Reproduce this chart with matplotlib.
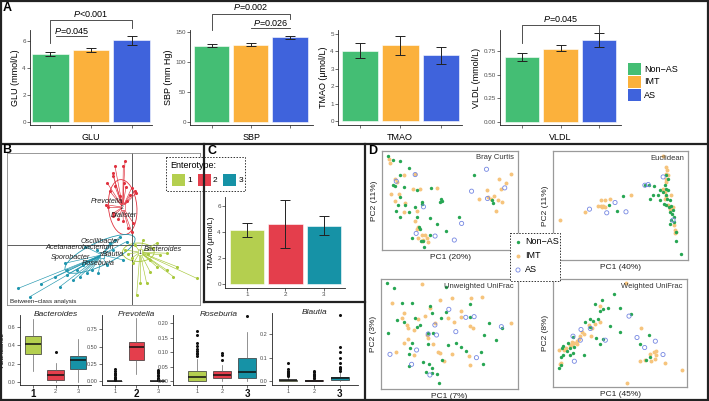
import matplotlib
matplotlib.use('Agg')
import matplotlib.pyplot as plt
from matplotlib.patches import Rectangle, Ellipse
import numpy as np

plt.rcParams['font.family'] = ['Liberation Sans', 'DejaVu Sans']
plt.rcParams['mathtext.fontset'] = 'custom'
plt.rcParams['mathtext.rm'] = 'Liberation Sans'
plt.rcParams['mathtext.it'] = 'Liberation Sans:italic'

# ---------------- data ----------------
groups = ['Non\u2212AS', 'IMT', 'AS']
group_colors = ['#44BE74', '#FBB13C', '#3F63DC']

glu_mean = [5.0, 5.3, 6.05]
glu_lo = [4.85, 5.2, 5.72]
glu_hi = [5.2, 5.48, 6.40]
sbp_mean = [127, 129, 141]
sbp_lo = [124.5, 127, 138]
sbp_hi = [129.5, 131, 144]
tmao_mean = [4.05, 4.34, 3.77]
tmao_lo = [3.60, 3.77, 3.26]
tmao_hi = [4.50, 4.90, 4.23]
vldl_mean = [0.69, 0.78, 0.87]
vldl_lo = [0.65, 0.75, 0.80]
vldl_hi = [0.73, 0.815, 0.945]

enterotypes = ['1', '2', '3']
ent_colors = ['#B4CF4F', '#E43E4C', '#1692A6']
tmao_ent_mean = [4.15, 4.6, 4.5]
tmao_ent_lo = [3.6, 2.75, 3.8]
tmao_ent_hi = [4.7, 6.5, 5.25]

# boxplot summaries (q1, median, q3, whisker low, whisker high, outliers)
bact_q1 = [0.30, 0.02, 0.145]
bact_med = [0.41, 0.073, 0.24]
bact_q3 = [0.50, 0.135, 0.28]
bact_wlo = [0.12, 0.0, 0.0]
bact_whi = [0.69, 0.21, 0.47]
bact_out = [[], [0.33], []]

prev_q1 = [0.0, 0.31, 0.0]
prev_med = [0.0, 0.49, 0.002]
prev_q3 = [0.005, 0.57, 0.007]
prev_wlo = [0.0, 0.10, 0.0]
prev_whi = [0.012, 0.91, 0.016]
prev_out = [[0.02, 0.03, 0.04, 0.05, 0.06, 0.08, 0.10, 0.12, 0.15, 0.175],
            [],
            [0.02, 0.03, 0.05, 0.07, 0.09, 0.11, 0.13, 0.145, 0.16]]

rose_q1 = [0.0, 0.009, 0.012]
rose_med = [0.013, 0.02, 0.031]
rose_q3 = [0.035, 0.035, 0.078]
rose_wlo = [0.0, 0.0, 0.0]
rose_whi = [0.075, 0.054, 0.171]
rose_out = [[0.087, 0.093, 0.098, 0.104, 0.11, 0.122, 0.133, 0.16, 0.173],
            [0.073, 0.09, 0.096],
            [0.225]]

blau_q1 = [0.0, 0.0, 0.004]
blau_med = [0.003, 0.002, 0.011]
blau_q3 = [0.006, 0.004, 0.019]
blau_wlo = [0.0, 0.0, 0.0]
blau_whi = [0.019, 0.009, 0.04]
blau_out = [[0.022, 0.025, 0.028, 0.03, 0.033, 0.036, 0.04, 0.045, 0.05, 0.076],
            [0.012, 0.015, 0.02, 0.025, 0.03, 0.04, 0.043],
            [0.045, 0.05, 0.055, 0.061, 0.076, 0.097, 0.126, 0.144, 0.283]]

# between-class analysis scores (arbitrary units, axis 2 sign flipped)
bca_origin = (395, 345)
bca_centroids = [(420, 367), (368, 232), (305, 375)]
bca_ent1 = [(590, 445), (520, 440), (500, 420), (470, 410), (450, 425), (410, 495), (420, 460),
            (440, 460), (530, 410), (480, 375), (460, 355), (500, 370), (450, 390), (430, 330),
            (405, 345), (385, 372), (400, 400), (470, 340), (375, 360), (445, 372), (395, 385)]
bca_ent2 = [(375, 95), (345, 110), (370, 108), (338, 130), (340, 140), (322, 160), (330, 185),
            (345, 170), (372, 160), (378, 172), (395, 175), (405, 183), (408, 190), (390, 195),
            (318, 225), (325, 232), (340, 250), (340, 260), (355, 268), (370, 275), (385, 295),
            (395, 305), (400, 280), (360, 200), (380, 215)]
bca_ent3 = [(55, 475), (90, 500), (122, 462), (165, 440), (180, 470), (200, 435), (220, 450),
            (240, 440), (260, 430), (275, 420), (295, 430), (320, 405), (250, 405), (230, 420),
            (200, 420), (330, 340), (345, 330), (360, 320), (380, 335), (370, 390), (290, 360),
            (255, 350), (310, 380), (195, 400), (340, 360)]
bca_ellipses = [((415, 367), 95, 55, 0), ((368, 232), 85, 165, -5), ((300, 372), 230, 70, -25)]
bca_taxa = ['Prevotella', 'Dialister', 'Oscillibacter', 'Acetanaerobacterium', 'Bacteroides',
            'Sporobacter', 'Blautia', 'Roseburia']
bca_taxa_xy = [(320, 215), (373, 258), (300, 335), (240, 352), (488, 360), (212, 383),
               (338, 373), (295, 402)]

# PCoA scores (arbitrary units, axis 2 sign flipped)
bray_non = [(98, 62), (112, 73), (135, 77), (162, 97), (135, 120), (112, 148), (120, 152), (147, 155),
            (185, 165), (228, 158), (258, 192), (262, 197), (255, 200), (200, 200), (200, 207),
            (135, 185), (128, 210), (150, 210), (180, 215), (122, 228), (135, 245), (162, 232),
            (185, 245), (192, 275), (196, 283), (225, 250), (245, 268), (272, 287), (225, 300),
            (170, 308), (197, 318), (208, 335), (313, 247), (358, 120), (413, 195), (415, 205),
            (205, 318)]
bray_imt = [(100, 72), (105, 82), (118, 130), (145, 118), (178, 115), (125, 140), (108, 175),
            (130, 175), (172, 162), (195, 162), (245, 158), (118, 198), (150, 205), (145, 230),
            (185, 228), (178, 258), (190, 275), (185, 283), (200, 300), (210, 300), (215, 310),
            (200, 318), (188, 308), (220, 320), (205, 350), (207, 357), (433, 130), (470, 115),
            (455, 143), (440, 160), (397, 165), (400, 186), (372, 190), (417, 183), (410, 190),
            (430, 195), (443, 200), (423, 228), (205, 315)]
bray_as = [(123, 138), (180, 118), (205, 215), (320, 265), (350, 168), (395, 102), (398, 190),
           (450, 158), (183, 295), (240, 303), (298, 315)]

eucl_non = [(345, 148), (358, 150), (372, 152), (392, 165), (405, 148), (410, 160), (415, 165),
            (400, 170), (385, 180), (408, 178), (412, 190), (420, 195), (390, 195), (403, 205),
            (410, 210), (418, 215), (424, 212), (430, 225), (420, 230), (428, 238), (432, 245),
            (425, 255), (432, 262), (420, 268), (440, 290), (440, 318), (455, 358), (370, 180),
            (280, 182), (238, 210), (262, 228), (360, 192), (408, 120), (415, 130)]
eucl_imt = [(400, 62), (410, 95), (413, 105), (415, 120), (410, 130), (408, 140), (400, 162),
            (405, 170), (410, 182), (405, 190), (425, 180), (415, 210), (430, 215), (420, 222),
            (432, 270), (437, 285), (440, 290), (435, 295), (302, 178), (240, 192), (225, 195),
            (213, 195), (212, 212), (215, 215), (225, 215), (218, 213), (205, 213), (163, 230),
            (88, 255), (410, 115)]
eucl_as = [(178, 222), (230, 233), (255, 202), (288, 230), (345, 150), (355, 148), (400, 125),
           (430, 255)]

unw_non = [(97, 55), (118, 68), (273, 65), (140, 115), (170, 115), (232, 143), (225, 123), (180, 158),
           (148, 170), (125, 165), (185, 185), (195, 180), (258, 158), (272, 140), (345, 118),
           (345, 155), (402, 173), (442, 190), (388, 210), (425, 225), (98, 205), (218, 205),
           (235, 205), (172, 235), (218, 238), (280, 240), (305, 235), (318, 245), (165, 250),
           (163, 268), (260, 285), (230, 310), (222, 298), (212, 322), (232, 325), (245, 327),
           (161, 302), (253, 355), (380, 262), (385, 297), (335, 258), (205, 290)]
unw_imt = [(200, 57), (112, 115), (148, 145), (255, 104), (292, 98), (348, 98), (381, 96), (320, 138),
           (318, 155), (278, 158), (298, 170), (210, 153), (225, 130), (140, 160), (155, 180),
           (160, 188), (176, 195), (188, 162), (240, 175), (346, 182), (355, 188), (470, 175),
           (220, 218), (215, 210), (233, 237), (148, 233), (122, 262), (178, 270), (250, 262),
           (255, 265), (293, 267), (268, 288), (342, 273), (345, 300), (160, 223)]
unw_as = [(282, 133), (333, 157), (358, 155), (240, 180), (245, 210), (303, 200), (220, 207),
          (185, 255), (105, 268), (170, 298), (365, 278), (440, 185), (225, 330)]

wun_non = [(250, 88), (215, 105), (195, 118), (232, 130), (218, 132), (268, 128), (210, 138),
           (302, 148), (178, 163), (188, 168), (202, 163), (240, 182), (178, 185), (198, 218),
           (210, 235), (268, 200), (218, 220), (128, 215), (112, 232), (97, 242), (95, 248),
           (118, 248), (110, 258), (127, 262), (98, 270), (92, 275), (118, 270), (160, 270),
           (85, 308), (92, 298), (132, 245), (357, 210), (330, 237), (348, 283), (360, 275),
           (165, 172)]
wun_imt = [(288, 55), (210, 122), (208, 172), (195, 178), (185, 188), (175, 180), (160, 205),
           (155, 200), (150, 212), (145, 220), (140, 228), (132, 233), (125, 238), (118, 240),
           (140, 235), (108, 248), (100, 255), (87, 255), (183, 212), (88, 295), (92, 292),
           (332, 190), (358, 265), (370, 260), (378, 270), (375, 282), (362, 288), (345, 283),
           (330, 288), (405, 293), (455, 313), (290, 352), (125, 230), (378, 258)]
wun_as = [(296, 153), (320, 217), (343, 247), (375, 228), (398, 268), (152, 193), (180, 190),
          (128, 213), (132, 288), (225, 225), (150, 225)]

# ---------------- figure ----------------
W, H = 709, 401
fig = plt.figure(figsize=(W / 100, H / 100), dpi=100)


def rect(x0, y0, x1, y1):
    return [x0 / W, 1 - y1 / H, (x1 - x0) / W, (y1 - y0) / H]


def style_axes(ax, fs=4.5):
    for s in ['top', 'right']:
        ax.spines[s].set_visible(False)
    for s in ['left', 'bottom']:
        ax.spines[s].set_linewidth(0.6)
        ax.spines[s].set_color('#222222')
    ax.tick_params(length=2, width=0.5, labelsize=fs, color='#333333', labelcolor='#4D4D4D', pad=1)
    ax.patch.set_alpha(0)


def bar_panel(px, mean, lo, hi, xlim, ylim, yticks, ylabel, xlabel, cols, fmt=None, ylfs=6.5):
    ax = fig.add_axes(rect(*px))
    x = np.arange(len(mean))
    m = np.array(mean)
    ax.bar(x, m, width=0.9, color=cols, edgecolor='white', linewidth=0.4)
    err = [m - np.array(lo), np.array(hi) - m]
    ax.errorbar(x, m, yerr=err, fmt='none', ecolor='#222222', elinewidth=0.7, capsize=3.5, capthick=0.7)
    ax.set_xlim(*xlim)
    ax.set_ylim(*ylim)
    ax.set_yticks(yticks)
    if fmt:
        ax.set_yticklabels([fmt % v for v in yticks])
    ax.set_xticks(x)
    ax.set_ylabel(ylabel, fontsize=ylfs, labelpad=2)
    if xlabel is not None:
        ax.set_xticklabels([])
        ax.set_xlabel(xlabel, fontsize=6.5, labelpad=3)
    style_axes(ax)
    return ax


def bracket(ax, x1, x2, y, y1leg, y2leg, text, ty):
    ax.plot([x1, x1, x2, x2], [y1leg, y, y, y2leg], color='#333333', lw=0.6, clip_on=False)
    ax.text((x1 + x2) / 2, ty, text, ha='center', va='center', fontsize=6.5, clip_on=False)


# ----- Panel A -----
ax = bar_panel((30, 30, 152, 125), glu_mean, glu_lo, glu_hi, (-0.5, 2.5), (-0.22, 6.81),
               [0, 2, 4, 6], 'GLU (mmol/L)', 'GLU', group_colors)
bracket(ax, 0, 2, 7.56, 5.85, 6.96, r'$P$<0.001', 8.0)
ax.plot([0.15, 0.9], [6.37, 6.37], color='#333333', lw=0.6, clip_on=False)
ax.text(0.52, 6.72, r'$P$=0.045', ha='center', va='center', fontsize=6.5)

ax = bar_panel((190, 30, 313, 125), sbp_mean, sbp_lo, sbp_hi, (-0.56, 2.59), (-5, 153.3),
               [0, 50, 100, 150], 'SBP (mm Hg)', 'SBP', group_colors)
bracket(ax, 0, 2, 180, 153, 172, r'$P$=0.002', 191.5)
ax.plot([1, 2], [157, 157], color='#333333', lw=0.6, clip_on=False)
ax.text(1.5, 165, r'$P$=0.026', ha='center', va='center', fontsize=6.5)

ax = bar_panel((338, 30, 462, 125), tmao_mean, tmao_lo, tmao_hi, (-0.54, 2.52), (-0.23, 5.23),
               [0, 1, 2, 3, 4, 5], 'TMAO (\u03bcmol/L)', 'TMAO', group_colors)

ax = bar_panel((500, 30, 621, 125), vldl_mean, vldl_lo, vldl_hi, (-0.57, 2.57), (-0.033, 0.978),
               [0, 0.25, 0.5, 0.75], 'VLDL (mmol/L)', 'VLDL', group_colors, fmt='%.2f')
bracket(ax, 0, 2, 1.03, 0.837, 0.946, r'$P$=0.045', 1.098)

# ----- Panel C -----
ax = bar_panel((225, 197, 345, 288), tmao_ent_mean, tmao_ent_lo, tmao_ent_hi, (-0.57, 2.55),
               (-0.31, 6.7), [0, 2, 4, 6], 'TMAO (\u03bcmol/L)', None, ent_colors, ylfs=5.5)
ax.set_xticklabels(enterotypes)

# ----- Panel B bottom: boxplots -----
def box_panel(px, q1, med, q3, wlo, whi, out, xlim, ylim, yticks, fmt, title, bold_idx, ylabel=None):
    ax = fig.add_axes(rect(*px))
    stats = []
    for i in range(3):
        stats.append(dict(q1=q1[i], med=med[i], q3=q3[i], whislo=wlo[i], whishi=whi[i],
                          fliers=out[i]))
    bp = ax.bxp(stats, positions=[1, 2, 3], widths=0.7, patch_artist=True, showcaps=False,
                boxprops=dict(linewidth=0.5, edgecolor='#333333'),
                whiskerprops=dict(linewidth=0.5, color='#666666'),
                medianprops=dict(linewidth=1.1, color='#111111'),
                flierprops=dict(marker='o', markersize=1.2, markerfacecolor='#111111',
                                markeredgecolor='#111111', linestyle='none'))
    for patch, c in zip(bp['boxes'], ent_colors):
        patch.set_facecolor(c)
    ax.set_xlim(*xlim)
    ax.set_ylim(*ylim)
    ax.set_yticks(yticks)
    ax.set_yticklabels([fmt % v for v in yticks])
    ax.set_xticks([1, 2, 3])
    ax.set_xticklabels(enterotypes)
    style_axes(ax, fs=4)
    for i, lab in enumerate(ax.get_xticklabels()):
        if i == bold_idx:
            lab.set_fontsize(7)
            lab.set_fontweight('bold')
            lab.set_color('#111111')
    ax.text(0.5, 1.0, title, transform=ax.transAxes, ha='center', va='center',
            fontsize=6, style='italic', color='#222222')
    if ylabel:
        ax.set_ylabel(ylabel, fontsize=5, style='italic')
        ax.yaxis.set_label_coords(-0.19, 0.5)
    return ax


box_panel((20, 315, 91, 385), bact_q1, bact_med, bact_q3, bact_wlo, bact_whi, bact_out,
          (0.45, 3.55), (-0.033, 0.73), [0, 0.2, 0.4, 0.6], '%.1f', 'Bacteroides', 0, 'Abundance')
box_panel((102, 315, 170, 385), prev_q1, prev_med, prev_q3, prev_wlo, prev_whi, prev_out,
          (0.4, 3.56), (-0.058, 0.957), [0, 0.25, 0.5, 0.75], '%.2f', 'Prevotella', 1)
box_panel((173, 315, 265, 385), rose_q1, rose_med, rose_q3, rose_wlo, rose_whi, rose_out,
          (0.04, 3.72), (-0.014, 0.229), [0, 0.05, 0.1, 0.15, 0.2], '%.2f', 'Roseburia', 2)
box_panel((272, 313, 358, 385), blau_q1, blau_med, blau_q3, blau_wlo, blau_whi, blau_out,
          (0.38, 3.7), (-0.017, 0.292), [0, 0.1, 0.2], '%.1f', 'Blautia', 2)

# ----- Panel B top: between-class analysis -----
ax = fig.add_axes(rect(7, 153, 200, 305))
ax.set_xlim(21, 600)
ax.set_ylim(525, 70)
ax.set_xticks([])
ax.set_yticks([])
for s in ax.spines.values():
    s.set_color('#888888')
    s.set_linewidth(0.6)
ax.axvline(bca_origin[0], color='#444444', lw=0.6)
ax.axhline(bca_origin[1], color='#444444', lw=0.6)
bca_bc_colors = ['#A8C83C', '#E0323F', '#2196AE']
for pts, cen, col, ell in zip([bca_ent1, bca_ent2, bca_ent3], bca_centroids, bca_bc_colors, bca_ellipses):
    for (px_, py_) in pts:
        ax.plot([cen[0], px_], [cen[1], py_], color=col, lw=0.45)
    pts_a = np.array(pts)
    ax.scatter(pts_a[:, 0], pts_a[:, 1], s=1.5, color=col, zorder=3)
    (ec, ew, eh, ea) = ell
    ax.add_patch(Ellipse(ec, ew, eh, angle=ea, fill=False, edgecolor=col, lw=0.6))
for i, cen in enumerate(bca_centroids):
    ax.text(cen[0], cen[1], enterotypes[i], fontsize=3.5, ha='center', va='center', zorder=5,
            bbox=dict(boxstyle='square,pad=0.15', fc='white', ec=bca_bc_colors[i], lw=0.4))
for name, (tx, ty) in zip(bca_taxa, bca_taxa_xy):
    ax.text(tx, ty, name, fontsize=5.2, style='italic', ha='center', va='center', color='#222222', zorder=6)
ax.text(30, 515, 'Between\u2212class analysis', fontsize=4.5, ha='left', va='center', color='#222222')

# ----- Panel D: PCoA -----
def pcoa_panel(px, xlim, ylim, non, imt, as_, title, xl, yl):
    ax = fig.add_axes(rect(*px))
    ax.set_xlim(*xlim)
    ax.set_ylim(*ylim)
    ax.set_xticks([])
    ax.set_yticks([])
    for s in ax.spines.values():
        s.set_color('#9A9A9A')
        s.set_linewidth(0.9)
    a = np.array(imt)
    ax.scatter(a[:, 0], a[:, 1], s=8, color='#F6C47C', linewidths=0, zorder=2)
    a = np.array(non)
    ax.scatter(a[:, 0], a[:, 1], s=6, color='#27A653', linewidths=0, zorder=3)
    a = np.array(as_)
    ax.scatter(a[:, 0], a[:, 1], s=9, facecolor='none', edgecolor='#7587E2', linewidths=0.6, zorder=4)
    ax.text(0.97, 0.93, title, transform=ax.transAxes, ha='right', va='center', fontsize=5.5,
            color='#333333')
    ax.set_xlabel(xl, fontsize=6, labelpad=3, color='#222222')
    ax.set_ylabel(yl, fontsize=6, labelpad=3, color='#222222')
    return ax


pcoa_panel((382, 151, 518, 250), (80, 490), (345, 47), bray_non, bray_imt, bray_as,
           'Bray Curtis', 'PC1 (20%)', 'PC2 (11%)')
pcoa_panel((553, 151, 688, 260), (68, 475), (375, 47), eucl_non, eucl_imt, eucl_as,
           'Euclidean', 'PC1 (40%)', 'PC2 (11%)')
pcoa_panel((381, 279, 518, 389), (78, 490), (372, 42), unw_non, unw_imt, unw_as,
           'Unweighted UniFrac', 'PC1 (7%)', 'PC2 (3%)')
pcoa_panel((553, 279, 687, 387), (68, 470), (365, 42), wun_non, wun_imt, wun_as,
           'Weighted UniFrac', 'PC1 (45%)', 'PC2 (8%)')

# ----- overlay: frames, legends, panel letters -----
ov = fig.add_axes([0, 0, 1, 1], zorder=10)
ov.set_xlim(0, W)
ov.set_ylim(H, 0)
ov.axis('off')
lw_frame = 1.6
ov.add_patch(Rectangle((1, 1), W - 2, H - 2, fill=False, ec='#222222', lw=lw_frame))
ov.plot([0, W], [144, 144], color='#222222', lw=lw_frame)
ov.plot([365, 365], [144, H], color='#222222', lw=lw_frame)
ov.plot([204, 204], [144, 302], color='#222222', lw=lw_frame)
ov.plot([204, 365], [302, 302], color='#222222', lw=lw_frame)

for lab, (lx, ly) in zip('ABCD', [(3, 8), (2, 150), (207, 151), (368, 151)]):
    ov.text(lx, ly, lab, fontsize=9, fontweight='bold', ha='left', va='center')

# legend A
for i, (g, c) in enumerate(zip(groups, group_colors)):
    y0 = 63 + i * 13
    ov.add_patch(Rectangle((628, y0), 13, 12, fc=c, ec='none'))
    ov.text(644, y0 + 6, g, fontsize=6.5, ha='left', va='center')

# legend C (Enterotype)
ov.add_patch(Rectangle((166, 157), 79, 34, fc='white', ec='#333333', lw=0.7, ls=(0, (1.5, 1.5))))
ov.text(170, 166, 'Enterotype:', fontsize=6.5, ha='left', va='center')
for i, (e, c) in enumerate(zip(enterotypes, ent_colors)):
    x0 = 172 + i * 25.5
    ov.add_patch(Rectangle((x0, 174), 13, 12, fc=c, ec='none'))
    ov.text(x0 + 15.5, 180, e, fontsize=6, ha='left', va='center')

# legend D
ov.add_patch(Rectangle((510, 233), 50, 48, fc='white', ec='#333333', lw=0.7, ls=(0, (1.5, 1.5))))
ov.scatter([518], [242], s=6, color='#27A653', linewidths=0)
ov.scatter([518], [256], s=8, color='#F6C47C', linewidths=0)
ov.scatter([518], [270], s=9, facecolor='none', edgecolor='#7587E2', linewidths=0.6)
for yy, g in zip([242, 256, 270], groups):
    ov.text(525, yy, g, fontsize=6.5, ha='left', va='center')

fig.savefig('out.png', dpi=100)
